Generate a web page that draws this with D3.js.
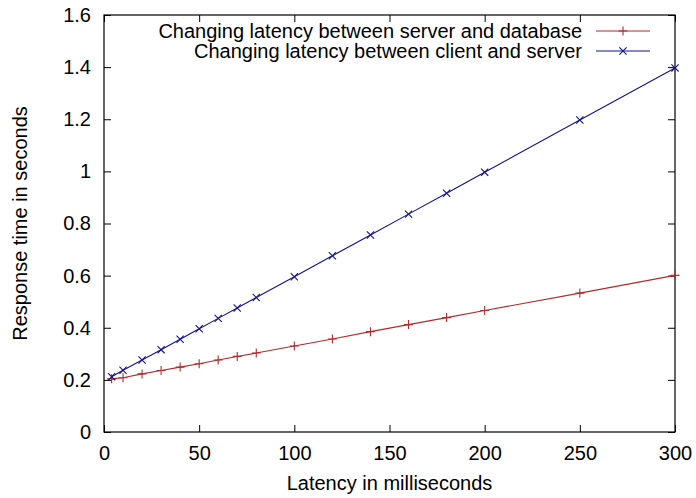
<!DOCTYPE html>
<html>
<head>
<meta charset="utf-8">
<script src="https://cdn.jsdelivr.net/npm/d3@7"></script>
<style>
  html, body { margin: 0; padding: 0; background: #fff; }
  svg { display: block; font-family: "Liberation Sans", Arial, sans-serif; }
</style>
</head>
<body>
<svg id="chart" width="696" height="498"></svg>
<script>
// Latency (ms) at which each response time was measured
const latencyMs = [4, 10, 20, 30, 40, 50, 60, 70, 80, 100, 120, 140, 160, 180, 200, 250, 300];

// Response time (s) when latency is added between server and database
const serverDbSeconds = [0.204, 0.208, 0.223, 0.236, 0.249, 0.262, 0.276, 0.290, 0.303,
  0.330, 0.357, 0.385, 0.412, 0.439, 0.466, 0.533, 0.601];

// Response time (s) when latency is added between client and server
const clientServerSeconds = [0.212, 0.237, 0.276, 0.316, 0.356, 0.396, 0.436, 0.476, 0.516,
  0.596, 0.676, 0.756, 0.836, 0.916, 0.997, 1.197, 1.397];

const seriesNames = [
  "Changing latency between server and database",
  "Changing latency between client and server"
];

const xTicks = [0, 50, 100, 150, 200, 250, 300];
const yTicks = [0, 0.2, 0.4, 0.6, 0.8, 1, 1.2, 1.4, 1.6];

const svg = d3.select("#chart");
const plotLeft = 104, plotRight = 675, plotTop = 15, plotBottom = 432;

const x = d3.scaleLinear().domain([0, 300]).range([plotLeft, plotRight]);
const y = d3.scaleLinear().domain([0, 1.6]).range([plotBottom, plotTop]);

const tickLen = 7;
const fontSize = 20;

// Axes: inward ticks, mirrored on top and right
const axisG = svg.append("g");
const bottomAxis = d3.axisBottom(x).tickValues(xTicks).tickSize(-tickLen).tickPadding(14).tickFormat(d3.format("d"));
const topAxis = d3.axisTop(x).tickValues(xTicks).tickSize(-tickLen).tickFormat("");
const leftAxis = d3.axisLeft(y).tickValues(yTicks).tickSize(-tickLen).tickPadding(13).tickFormat(d => String(+d.toFixed(1)));
const rightAxis = d3.axisRight(y).tickValues(yTicks).tickSize(-tickLen).tickFormat("");

function styleAxis(g) {
  g.select(".domain").remove();
  g.selectAll(".tick line").attr("stroke", "#000").attr("stroke-width", 1);
  g.selectAll(".tick text").attr("fill", "#000").style("font-size", fontSize + "px")
    .style("font-family", "'Liberation Sans', Arial, sans-serif");
}

axisG.append("g").attr("transform", `translate(0,${plotBottom})`).call(bottomAxis).call(styleAxis);
axisG.append("g").attr("transform", `translate(0,${plotTop})`).call(topAxis).call(styleAxis);
axisG.append("g").attr("transform", `translate(${plotLeft},0)`).call(leftAxis).call(styleAxis);
axisG.append("g").attr("transform", `translate(${plotRight},0)`).call(rightAxis).call(styleAxis);

// Plot frame
svg.append("rect")
  .attr("x", plotLeft).attr("y", plotTop)
  .attr("width", plotRight - plotLeft).attr("height", plotBottom - plotTop)
  .attr("fill", "none").attr("stroke", "#000").attr("stroke-width", 1.2);

// Axis titles
svg.append("text")
  .attr("x", (plotLeft + plotRight) / 2).attr("y", 490)
  .attr("text-anchor", "middle")
  .style("font-size", fontSize + "px")
  .text("Latency in milliseconds");

svg.append("text")
  .attr("transform", `translate(27,${(plotTop + plotBottom) / 2}) rotate(-90)`)
  .attr("text-anchor", "middle")
  .style("font-size", fontSize + "px")
  .text("Response time in seconds");

const colors = ["#b22a2a", "#12128f"];
const plusPath = s => `M${-s},0H${s}M0,${-s}V${s}`;
const crossPath = s => `M${-s},${-s}L${s},${s}M${-s},${s}L${s},${-s}`;
const markerPaths = [plusPath(4.5), crossPath(3.6)];

const series = [serverDbSeconds, clientServerSeconds];
const line = d3.line().x(d => x(d[0])).y(d => y(d[1]));

series.forEach((vals, i) => {
  const pts = latencyMs.map((l, j) => [l, vals[j]]);
  const g = svg.append("g");
  g.append("path")
    .attr("d", line(pts))
    .attr("fill", "none")
    .attr("stroke", colors[i])
    .attr("stroke-width", 1.1);
  g.selectAll("path.mk").data(pts).join("path")
    .attr("class", "mk")
    .attr("transform", d => `translate(${x(d[0])},${y(d[1])})`)
    .attr("d", markerPaths[i])
    .attr("stroke", colors[i])
    .attr("stroke-width", 1.1)
    .attr("fill", "none");
});

// Legend, top-right inside the plot
const legendRows = [31, 51];
seriesNames.forEach((name, i) => {
  const g = svg.append("g").attr("transform", `translate(0,${legendRows[i]})`);
  g.append("text")
    .attr("x", 582).attr("y", 0).attr("dy", "0.35em")
    .attr("text-anchor", "end")
    .style("font-size", fontSize + "px")
    .text(name);
  g.append("line")
    .attr("x1", 596).attr("x2", 650)
    .attr("stroke", colors[i]).attr("stroke-width", 1.1);
  g.append("path")
    .attr("transform", "translate(623,0)")
    .attr("d", markerPaths[i])
    .attr("stroke", colors[i]).attr("stroke-width", 1.1).attr("fill", "none");
});
</script>
</body>
</html>
